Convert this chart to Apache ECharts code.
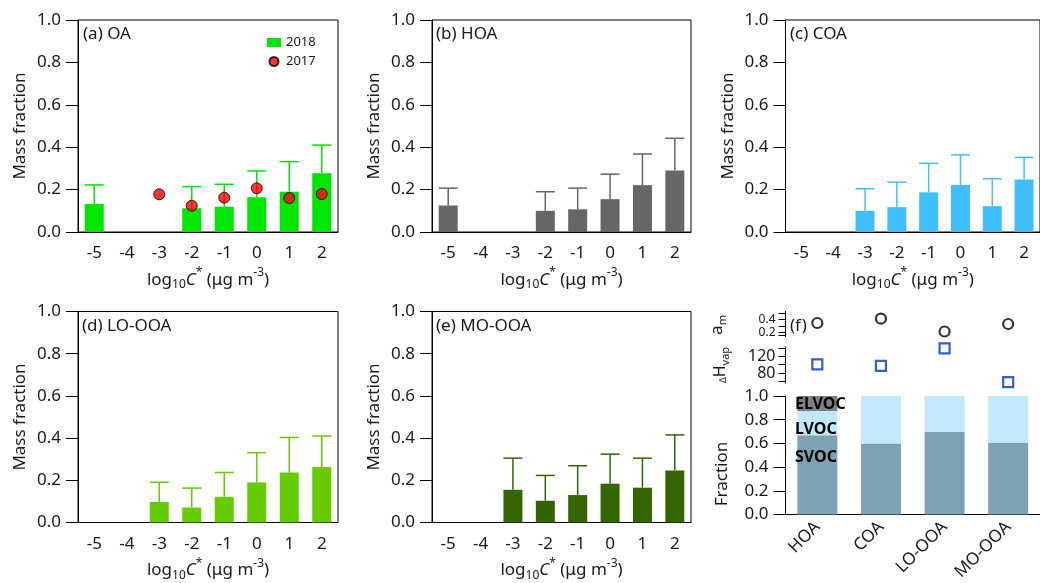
<!DOCTYPE html>
<html>
<head>
<meta charset="utf-8">
<script src="https://cdn.jsdelivr.net/npm/echarts@6/dist/echarts.min.js"></script>
<style>html,body{margin:0;padding:0;background:#fff}#c{width:1040px;height:583px}</style>
</head>
<body>
<div id="c"></div>
<script>
// ---------- data ----------
const bins = ['-5', '-4', '-3', '-2', '-1', '0', '1', '2'];
const oa2018 = [0.132, null, null, 0.112, 0.119, 0.164, 0.190, 0.277];
const oa2018Sd = [0.090, null, null, 0.102, 0.106, 0.124, 0.142, 0.133];
const oa2017 = [null, null, 0.178, 0.124, 0.162, 0.206, 0.160, 0.179];
const hoa = [0.125, null, null, 0.100, 0.107, 0.155, 0.221, 0.290];
const hoaSd = [0.082, null, null, 0.090, 0.100, 0.118, 0.147, 0.152];
const coa = [null, null, 0.100, 0.117, 0.187, 0.222, 0.122, 0.248];
const coaSd = [null, null, 0.104, 0.118, 0.137, 0.142, 0.129, 0.104];
const loooa = [null, null, 0.097, 0.071, 0.122, 0.190, 0.237, 0.263];
const loooaSd = [null, null, 0.094, 0.092, 0.115, 0.141, 0.166, 0.147];
const moooa = [null, null, 0.155, 0.103, 0.130, 0.184, 0.165, 0.247];
const moooaSd = [null, null, 0.150, 0.120, 0.139, 0.140, 0.140, 0.168];

const factors = ['HOA', 'COA', 'LO-OOA', 'MO-OOA'];
const svoc = [0.668, 0.599, 0.699, 0.607];
const lvoc = [0.205, 0.401, 0.301, 0.393];
const elvoc = [0.127, 0, 0, 0];
const am = [0.346, 0.416, 0.210, 0.330];
const dHvap = [100.7, 96.7, 138.8, 57.9];
const amTickLabels = [0.2, 0.4];
const dHTickLabels = [80, 120];

// ---------- layout ----------
const FONT = 'Noto Sans';
const TXT = '#1a1a1a';
const FS = 17;
const grids = [
  {left: 78, top: 20, width: 260, height: 212},
  {left: 432, top: 20, width: 259, height: 212},
  {left: 785.5, top: 20, width: 259, height: 212},
  {left: 78, top: 311.5, width: 260, height: 211},
  {left: 432, top: 311.5, width: 259, height: 211},
  {left: 785.5, top: 396, width: 260, height: 126.5},
  {left: 785.5, top: 311.5, width: 260, height: 25},
  {left: 785.5, top: 347, width: 260, height: 36}
];
const panels = [
  {label: '(a) OA', vals: oa2018, sd: oa2018Sd, color: '#00e600', name: '2018'},
  {label: '(b) HOA', vals: hoa, sd: hoaSd, color: '#666666', name: 'HOA'},
  {label: '(c) COA', vals: coa, sd: coaSd, color: '#40bfff', name: 'COA'},
  {label: '(d) LO-OOA', vals: loooa, sd: loooaSd, color: '#66cc00', name: 'LO-OOA'},
  {label: '(e) MO-OOA', vals: moooa, sd: moooaSd, color: '#336600', name: 'MO-OOA'}
];

const blk = {lineStyle: {color: '#000', width: 1}};
const xName = '{n|log}{sub|10}{it|C}{sup|*}{n| (μg m}{sup|-3}{n|)}';
const xNameStyle = {
  color: TXT, fontFamily: FONT, fontSize: FS,
  rich: {
    n: {fontSize: FS, fontFamily: FONT, color: TXT},
    it: {fontSize: FS, fontFamily: FONT, fontStyle: 'italic', color: TXT},
    sub: {fontSize: 12, fontFamily: FONT, color: TXT, padding: [10, 0, 0, 0]},
    sup: {fontSize: 12, fontFamily: FONT, color: TXT, padding: [0, 0, 14, 0]}
  }
};

const xAxes = [], yAxes = [], series = [];
panels.forEach((p, i) => {
  xAxes.push({
    type: 'category', gridIndex: i, data: bins,
    axisLine: blk, axisTick: {length: 12, lineStyle: {color: '#000'}},
    axisLabel: {fontSize: FS, color: TXT, fontFamily: FONT, margin: 13},
    name: xName, nameLocation: 'middle', nameGap: 35, nameTextStyle: xNameStyle
  });
  yAxes.push({
    type: 'value', gridIndex: i, min: 0, max: 1, interval: 0.2,
    axisLine: {show: true, lineStyle: {color: '#000'}},
    axisTick: {show: true, length: 12, lineStyle: {color: '#000'}},
    splitLine: {show: false},
    axisLabel: {fontSize: FS, color: TXT, fontFamily: FONT, margin: 17, formatter: v => v.toFixed(1)},
    name: 'Mass fraction', nameLocation: 'middle', nameGap: 49,
    nameTextStyle: {fontSize: FS, color: TXT, fontFamily: FONT}
  });
  series.push({
    type: 'bar', name: p.name, xAxisIndex: i, yAxisIndex: i, data: p.vals,
    barWidth: 19, itemStyle: {color: p.color}, z: 2
  });
  const errData = [];
  p.vals.forEach((v, k) => { if (v != null) errData.push([k, v, p.sd[k]]); });
  series.push({
    type: 'custom', xAxisIndex: i, yAxisIndex: i, data: errData, z: 3,
    encode: {x: 0, y: 1},
    renderItem: (params, api) => {
      const x = api.value(0), y = api.value(1), e = api.value(2);
      const p0 = api.coord([x, y]);
      const p1 = api.coord([x, y + e]);
      const h = 9.5;
      const st = {stroke: p.color, lineWidth: 1.5};
      return {type: 'group', children: [
        {type: 'line', shape: {x1: p0[0], y1: p0[1], x2: p1[0], y2: p1[1]}, style: st},
        {type: 'line', shape: {x1: p1[0] - h, y1: p1[1], x2: p1[0] + h, y2: p1[1]}, style: st}
      ]};
    }
  });
});
series.push({
  type: 'scatter', name: '2017', xAxisIndex: 0, yAxisIndex: 0, data: oa2017,
  symbol: 'circle', symbolSize: 11, z: 5,
  itemStyle: {color: '#ff0000', borderColor: '#000', borderWidth: 1}
});

// panel f: fraction
xAxes.push({
  type: 'category', gridIndex: 5, data: factors,
  axisLine: blk, axisTick: {length: 12, lineStyle: {color: '#000'}},
  axisLabel: {fontSize: FS, color: TXT, fontFamily: FONT, rotate: 45, margin: 10}
});
yAxes.push({
  type: 'value', gridIndex: 5, min: 0, max: 1, interval: 0.2,
  axisLine: {show: true, lineStyle: {color: '#000'}},
  axisTick: {show: true, length: 12, lineStyle: {color: '#000'}},
  splitLine: {show: false},
  axisLabel: {fontSize: FS, color: TXT, fontFamily: FONT, margin: 17, formatter: v => v.toFixed(1)}
});
// a_m
xAxes.push({type: 'category', gridIndex: 6, data: factors, show: false});
yAxes.push({
  type: 'value', gridIndex: 6, min: 0.13, max: 0.53,
  axisLine: {show: true, lineStyle: {color: '#000'}},
  axisTick: {show: true, length: 7, lineStyle: {color: '#000'}, customValues: [0.15, 0.2, 0.3, 0.4, 0.5]},
  splitLine: {show: false},
  axisLabel: {fontSize: 12, lineHeight: 12, color: TXT, fontFamily: FONT, margin: 10, hideOverlap: false,
    showMinLabel: true, showMaxLabel: true,
    customValues: amTickLabels, formatter: v => v.toFixed(1)}
});
// dHvap
xAxes.push({type: 'category', gridIndex: 7, data: factors, show: false});
yAxes.push({
  type: 'value', gridIndex: 7, min: 56, max: 142,
  axisLine: {show: true, lineStyle: {color: '#000'}},
  axisTick: {show: true, length: 7, lineStyle: {color: '#000'}, customValues: [60, 80, 100, 120, 140]},
  splitLine: {show: false},
  axisLabel: {fontSize: 16, color: TXT, fontFamily: FONT, margin: 10, hideOverlap: false,
    customValues: dHTickLabels}
});

series.push(
  {type: 'bar', name: 'SVOC', stack: 'f', xAxisIndex: 5, yAxisIndex: 5, data: svoc, barWidth: 40, itemStyle: {color: '#7ea2b3'}},
  {type: 'bar', name: 'LVOC', stack: 'f', xAxisIndex: 5, yAxisIndex: 5, data: lvoc, barWidth: 40, itemStyle: {color: '#c2e9fb'}},
  {type: 'bar', name: 'ELVOC', stack: 'f', xAxisIndex: 5, yAxisIndex: 5, data: elvoc, barWidth: 40, itemStyle: {color: '#808080'}},
  {type: 'scatter', name: 'am', xAxisIndex: 6, yAxisIndex: 6, data: am, symbol: 'circle', symbolSize: 10,
    itemStyle: {color: 'rgba(255,255,255,0)', borderColor: '#000', borderWidth: 2.2}},
  {type: 'scatter', name: 'dHvap', xAxisIndex: 7, yAxisIndex: 7, data: dHvap, symbol: 'rect', symbolSize: 10,
    itemStyle: {color: 'rgba(255,255,255,0)', borderColor: '#0033cc', borderWidth: 2.2}}
);

// ---------- text annotations ----------
const t = (text, x, y, extra) => Object.assign({
  type: 'text', x: x, y: y, z: 100,
  style: Object.assign({text: text, fontSize: FS, fontFamily: FONT, fill: TXT, verticalAlign: 'middle'}, extra || {})
});
const graphic = [
  t(panels[0].label, 83, 34), t(panels[1].label, 436, 34), t(panels[2].label, 790, 34),
  t(panels[3].label, 82, 326), t(panels[4].label, 436, 326), t('(f)', 790, 326),
  t('ELVOC', 795, 404, {fontWeight: 'bold', fontSize: 16, fill: '#000'}),
  t('LVOC', 795, 429, {fontWeight: 'bold', fontSize: 16, fill: '#000'}),
  t('SVOC', 795, 457, {fontWeight: 'bold', fontSize: 16, fill: '#000'}),
  {type: 'text', x: 722, y: 474, rotation: Math.PI / 2, z: 100,
    style: {text: 'Fraction', fontSize: FS, fontFamily: FONT, fill: TXT, align: 'center', verticalAlign: 'middle'}},
  {type: 'text', x: 720, y: 325, rotation: Math.PI / 2, z: 100,
    style: {text: '{a|a}{s|m}', align: 'center', verticalAlign: 'middle',
      rich: {a: {fontSize: 17, fontFamily: FONT, fill: TXT, padding: [0, 0, 6, 0]}, s: {fontSize: 11, fontFamily: FONT, fill: TXT, padding: [6, 0, 0, 0]}}}},
  {type: 'text', x: 723, y: 365, rotation: Math.PI / 2, z: 100,
    style: {text: '{d|Δ}{a|H}{s|vap}', align: 'center', verticalAlign: 'middle',
      rich: {d: {fontSize: 9, fontFamily: FONT, fill: TXT}, a: {fontSize: 16, fontFamily: FONT, fill: TXT, padding: [0, 0, 6, 0]}, s: {fontSize: 11, fontFamily: FONT, fill: TXT, padding: [6, 0, 0, 0]}}}}
];

const chart = echarts.init(document.getElementById('c'), null, {renderer: 'canvas'});
chart.setOption({
  animation: false,
  backgroundColor: '#fff',
  grid: grids.map((g, i) => Object.assign({containLabel: false, show: i < 5, borderColor: '#000', borderWidth: 1}, g)),
  legend: {
    left: 262, top: 31, orient: 'vertical', itemWidth: 14, itemHeight: 9, itemGap: 6,
    textStyle: {fontSize: 13, fontFamily: FONT, color: TXT},
    data: [{name: '2018', icon: 'rect'}, {name: '2017', icon: 'circle'}]
  },
  xAxis: xAxes,
  yAxis: yAxes,
  series: series,
  graphic: graphic
});
</script>
</body>
</html>
